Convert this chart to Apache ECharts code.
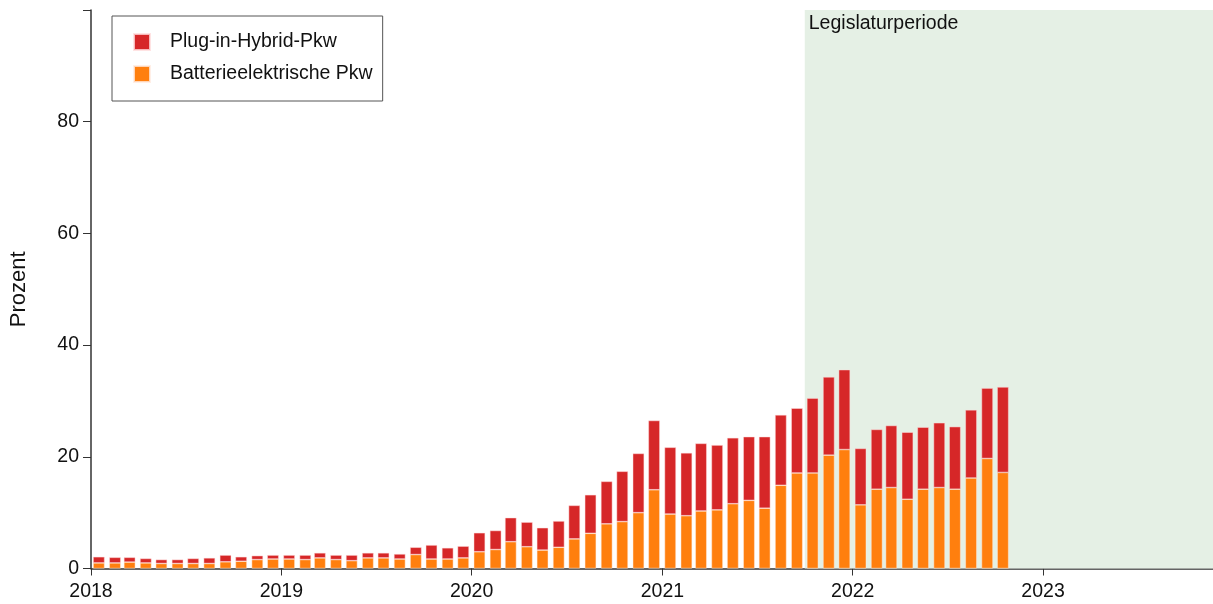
<!DOCTYPE html>
<html>
<head>
<meta charset="utf-8">
<script src="https://cdn.jsdelivr.net/npm/echarts@6/dist/echarts.min.js"></script>
<style>html,body{margin:0;padding:0;background:#fff}#c{width:1213px;height:604px}</style>
</head>
<body>
<div id="c"></div>
<script>
var months = [
 '2018-01','2018-02','2018-03','2018-04','2018-05','2018-06','2018-07','2018-08','2018-09','2018-10','2018-11','2018-12',
 '2019-01','2019-02','2019-03','2019-04','2019-05','2019-06','2019-07','2019-08','2019-09','2019-10','2019-11','2019-12',
 '2020-01','2020-02','2020-03','2020-04','2020-05','2020-06','2020-07','2020-08','2020-09','2020-10','2020-11','2020-12',
 '2021-01','2021-02','2021-03','2021-04','2021-05','2021-06','2021-07','2021-08','2021-09','2021-10','2021-11','2021-12',
 '2022-01','2022-02','2022-03','2022-04','2022-05','2022-06','2022-07','2022-08','2022-09','2022-10'
];
// Batterieelektrische Pkw (Anteil in Prozent)
var bev = [
 1.0,1.0,1.15,1.0,0.9,0.9,0.9,0.9,1.2,1.3,1.6,1.7,
 1.7,1.6,1.9,1.6,1.4,1.9,1.9,1.7,2.5,1.7,1.7,1.9,
 3.0,3.4,4.8,3.9,3.3,3.8,5.3,6.3,8.0,8.4,10.0,14.1,
 9.75,9.45,10.3,10.5,11.6,12.2,10.8,14.9,17.1,17.1,20.3,21.3,
 11.4,14.2,14.5,12.4,14.2,14.5,14.2,16.2,19.7,17.2
];
// Plug-in-Hybrid-Pkw (Anteil in Prozent)
var phev = [
 1.1,1.0,0.85,0.8,0.7,0.7,0.9,1.0,1.2,0.8,0.7,0.7,
 0.7,0.8,0.9,0.8,1.0,0.9,0.9,0.9,1.3,2.5,2.0,2.1,
 3.4,3.4,4.3,4.4,4.0,4.7,6.0,6.9,7.6,9.0,10.6,12.4,
 11.95,11.25,12.1,11.6,11.8,11.4,12.8,12.6,11.6,13.4,14.0,14.3,
 10.1,10.7,11.1,12.0,11.1,11.6,11.2,12.2,12.6,15.3
];
var yTicks = [0, 20, 40, 60, 80];
var legislaturStart = '2021-10-01';
var xMinDate = '2018-01-01';
var xMaxDate = '2023-11-23';

function ts(s){ var p = s.split('-'); return Date.UTC(+p[0], +p[1]-1, p[2] ? +p[2] : 1); }
function mid(m){ return ts(m + '-16'); }
var bevData = months.map(function(m,i){ return [mid(m), bev[i]]; });
var phevData = months.map(function(m,i){ return [mid(m), phev[i]]; });
var HOUR = 3600 * 1000;
var xMin = ts(xMinDate) - HOUR, xMax = ts(xMaxDate);

// Layout constants
var W = 1213, GRID_LEFT = 90, GRID_RIGHT = 0, BAR_W = 11.5;
// ECharts widens a time axis that holds bars by the bar overflow; pre-shrink so the final extent is [xMin, xMax]
var axisLen = W - GRID_LEFT - GRID_RIGHT;
var R = xMax - xMin;
var Rin = R * (1 - BAR_W / axisLen);
var pad = (R - Rin) / 2;
var axisMinIn = xMin + pad, axisMaxIn = xMax - pad;

var FONT = '"Liberation Sans", Arial, sans-serif';
var FS = 19.5;
var chart = echarts.init(document.getElementById('c'), null, {renderer:'canvas'});
chart.setOption({
  animation: false,
  useUTC: true,
  textStyle: {fontFamily: FONT},
  grid: {left: GRID_LEFT, right: GRID_RIGHT, top: 10, bottom: 35.5, containLabel: false},
  legend: {
    orient: 'vertical', left: 112, top: 16,
    data: ['Plug-in-Hybrid-Pkw', 'Batterieelektrische Pkw'],
    itemWidth: 16, itemHeight: 16, itemGap: 12,
    padding: [16, 10, 17, 21],
    borderColor: '#555', borderWidth: 1, borderRadius: 0,
    icon: 'rect',
    textStyle: {fontSize: FS, color: '#111', fontFamily: FONT, lineHeight: 16, padding: [0,0,0,15]}
  },
  xAxis: {
    type: 'time',
    min: axisMinIn, max: axisMaxIn,
    splitNumber: 6,
    minInterval: 365 * 24 * HOUR,
    splitLine: {show: false},
    axisLine: {lineStyle: {color: '#333', width: 1.5}},
    axisTick: {show: true, length: 7, lineStyle: {color: '#333'}},
    axisLabel: {
      fontSize: FS, color: '#111', margin: 13, fontFamily: FONT,
      showMinLabel: false, showMaxLabel: false,
      formatter: function(v){ return String(new Date(v + 12 * HOUR).getUTCFullYear()); }
    }
  },
  yAxis: {
    type: 'value', min: 0, max: 100, interval: 20,
    name: 'Prozent', nameLocation: 'middle', nameGap: 61,
    nameTextStyle: {fontSize: 22, color: '#111', fontFamily: FONT},
    splitLine: {show: false},
    axisLine: {show: true, lineStyle: {color: '#333', width: 1.5}},
    axisTick: {show: true, length: 8, lineStyle: {color: '#333'}},
    axisLabel: {
      fontSize: FS, color: '#111', margin: 12, fontFamily: FONT,
      formatter: function(v){ return yTicks.indexOf(v) >= 0 ? String(v) : ''; }
    }
  },
  series: [
    {
      name: 'shade', type: 'line', data: [], z: 0, silent: true,
      markArea: {
        silent: true,
        itemStyle: {color: '#e5f0e5'},
        label: {show: true, position: 'insideTopLeft', color: '#111', fontSize: FS, fontFamily: FONT, offset: [-1, -1]},
        data: [[{name: 'Legislaturperiode', xAxis: ts(legislaturStart)}, {xAxis: xMax}]]
      }
    },
    {
      name: 'Batterieelektrische Pkw', type: 'bar', stack: 'a', data: bevData,
      barWidth: BAR_W, z: 2,
      itemStyle: {color: '#ff7f0e', borderColor: 'rgba(255,235,225,0.8)', borderWidth: 0.6}
    },
    {
      name: 'Plug-in-Hybrid-Pkw', type: 'bar', stack: 'a', data: phevData,
      barWidth: BAR_W, z: 2,
      itemStyle: {color: '#d62728', borderColor: 'rgba(255,220,220,0.8)', borderWidth: 0.6}
    }
  ]
});
</script>
</body>
</html>
